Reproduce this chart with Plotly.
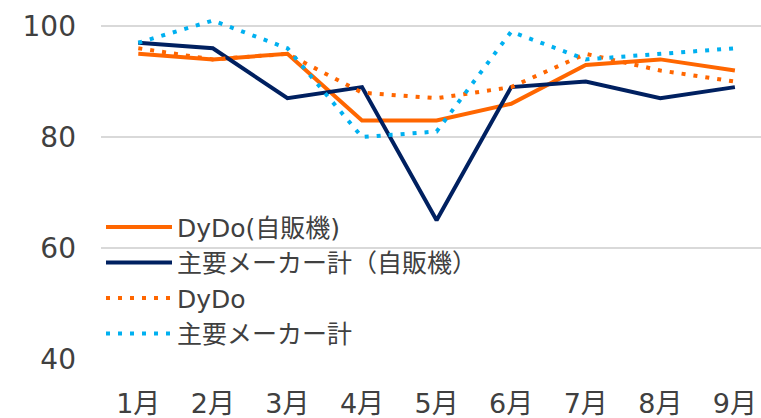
import plotly.graph_objects as go

months = ["1月", "2月", "3月", "4月", "5月", "6月", "7月", "8月", "9月"]

dydo_vending = [95, 94, 95, 83, 83, 86, 93, 94, 92]
majors_vending = [97, 96, 87, 89, 65, 89, 90, 87, 89]
dydo_total = [96, 94, 95, 88, 87, 89, 95, 92, 90]
majors_total = [97, 101, 96, 80, 81, 99, 94, 95, 96]

y_ticks = [40, 60, 80, 100]

FONT = "DejaVu Sans, Noto Sans CJK JP, sans-serif"
TEXT = "#404040"

fig = go.Figure()

fig.add_trace(go.Scatter(x=months, y=dydo_vending, mode="lines", name="DyDo(自販機)",
                         line=dict(color="#FF6600", width=4)))
fig.add_trace(go.Scatter(x=months, y=majors_vending, mode="lines", name="主要メーカー計（自販機）",
                         line=dict(color="#002060", width=4)))
fig.add_trace(go.Scatter(x=months, y=dydo_total, mode="lines", name="DyDo",
                         line=dict(color="#FF6600", width=4, dash="4px,8px")))
fig.add_trace(go.Scatter(x=months, y=majors_total, mode="lines", name="主要メーカー計",
                         line=dict(color="#00B0F0", width=4, dash="4px,8px")))

fig.update_layout(
    width=761, height=418,
    margin=dict(l=101, r=0, t=15, b=59),
    paper_bgcolor="white", plot_bgcolor="white",
    font=dict(family=FONT, size=24, color=TEXT),
    showlegend=True,
    legend=dict(x=0.0, y=0.45, xanchor="left", yanchor="top",
                bgcolor="rgba(0,0,0,0)", tracegroupgap=0,
                font=dict(size=25, color=TEXT), itemwidth=66),
)

fig.update_xaxes(range=[-0.5, 8.35], showgrid=False, showline=False, zeroline=False,
                 ticks="", ticklabelstandoff=26, tickfont=dict(size=27, color=TEXT))
fig.update_yaxes(range=[40, 102], tickvals=y_ticks, showgrid=True, gridcolor="#D9D9D9",
                 gridwidth=1.5, zeroline=False, showline=False, ticks="",
                 ticklabelstandoff=24, tickfont=dict(size=28, color=TEXT))

# page body has a default 8px margin; drop it so the figure sits at the corner
fig.write_html("out.html", config={"displayModeBar": False},
               post_script="document.body.style.margin='0';")
